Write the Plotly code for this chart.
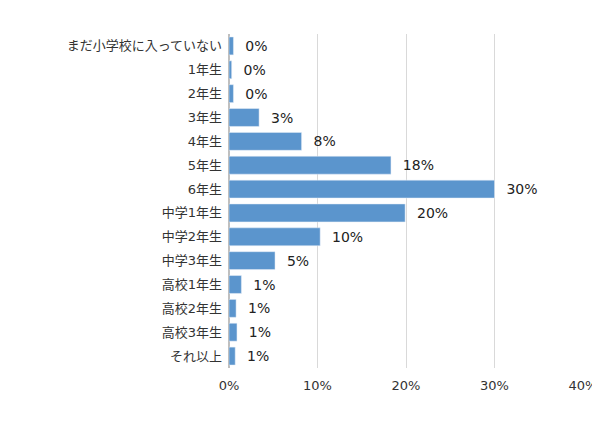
import plotly.graph_objects as go

categories = ["まだ小学校に入っていない","1年生","2年生","3年生","4年生","5年生","6年生",
              "中学1年生","中学2年生","中学3年生","高校1年生","高校2年生","高校3年生","それ以上"]
values = [0.5,0.3,0.5,3.4,8.2,18.3,30.0,19.9,10.3,5.2,1.4,0.8,0.9,0.7]
labels = ["0%","0%","0%","3%","8%","18%","30%","20%","10%","5%","1%","1%","1%","1%"]
tick_vals = [0,10,20,30,40]
tick_text = ["0%","10%","20%","30%","40%"]

fig = go.Figure(go.Bar(
    y=categories, x=values, orientation="h",
    marker=dict(color="#5b95cd"),
    text=["  " + t for t in labels], textposition="outside", cliponaxis=False,
    textfont=dict(size=14, color="#222"),
))
fig.update_layout(
    width=600, height=439, paper_bgcolor="white", plot_bgcolor="white",
    margin=dict(l=221, r=25, t=26, b=79),
    font=dict(family="DejaVu Sans, Noto Sans CJK JP", size=13, color="#333"),
    bargap=0.25, showlegend=False,
)
fig.update_yaxes(autorange="reversed", ticks="", ticklabelstandoff=6, showgrid=False,
                 automargin=False)
fig.update_xaxes(range=[0,40], tickvals=tick_vals, ticktext=tick_text,
                 showgrid=True, gridcolor="#d9d9d9", zeroline=True,
                 zerolinecolor="#bfbfbf", ticklabelstandoff=8, automargin=False)
fig.write_html("out.html")
